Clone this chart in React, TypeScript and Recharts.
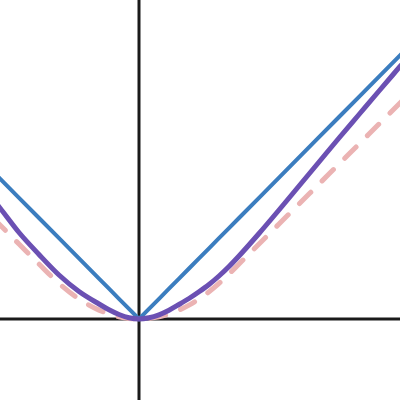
import React from 'react';
import { LineChart, Line, XAxis, YAxis, ReferenceLine } from 'recharts';

const xs = [-1.45, -1.39, -1.2, -1.0, -0.8, -0.6, -0.4, -0.3, -0.2, -0.1, 0, 0.1, 0.2, 0.3, 0.4, 0.5, 0.6, 0.7, 0.8, 0.9, 1.0, 1.2, 1.4, 1.6, 1.8, 2.0, 2.2, 2.4, 2.61, 2.67];
const absLoss = [1.4645, 1.4039, 1.212, 1.01, 0.808, 0.606, 0.404, 0.303, 0.202, 0.101, 0, 0.101, 0.202, 0.303, 0.404, 0.505, 0.606, 0.707, 0.808, 0.909, 1.01, 1.212, 1.414, 1.616, 1.818, 2.02, 2.222, 2.424, 2.6361, 2.6967];
const smoothLoss = [1.185, 1.11, 0.865, 0.645, 0.44, 0.275, 0.15, 0.092, 0.045, 0.012, 0, 0.012, 0.042, 0.088, 0.145, 0.205, 0.272, 0.345, 0.43, 0.525, 0.63, 0.855, 1.09, 1.33, 1.57, 1.81, 2.045, 2.28, 2.525, 2.595];
const huberLoss = [1.0, 0.94, 0.75, 0.55, 0.356, 0.2, 0.089, 0.05, 0.022, 0.006, 0, 0.006, 0.022, 0.05, 0.089, 0.139, 0.2, 0.272, 0.356, 0.45, 0.55, 0.75, 0.95, 1.15, 1.35, 1.55, 1.75, 1.95, 2.16, 2.22];

const data = xs.map((x, i) => ({ x, a: absLoss[i], s: smoothLoss[i], h: huberLoss[i] }));

export default function App() {
  return (
    <div style={{ position: 'absolute', left: 0, top: 0, width: 400, height: 400, background: '#fff', overflow: 'hidden' }}>
      <LineChart width={400} height={400} data={data} margin={{ top: 0, right: 0, bottom: 0, left: 0 }}>
        <XAxis type="number" dataKey="x" domain={[-1.39, 2.61]} allowDataOverflow hide />
        <YAxis type="number" domain={[-0.81, 3.19]} allowDataOverflow hide />
        <ReferenceLine x={0} stroke="#1a1a1a" strokeWidth={3} />
        <ReferenceLine y={0} stroke="#1a1a1a" strokeWidth={3} />
        <Line type="monotone" dataKey="h" stroke="#ebb3b3" strokeWidth={5} strokeDasharray="16 16" strokeLinecap="round" dot={false} activeDot={false} isAnimationActive={false} />
        <Line type="linear" dataKey="a" stroke="#3b7dbf" strokeWidth={4} strokeLinecap="butt" dot={false} activeDot={false} isAnimationActive={false} />
        <Line type="monotone" dataKey="s" stroke="#6b50b3" strokeWidth={5} strokeLinecap="butt" dot={false} activeDot={false} isAnimationActive={false} />
      </LineChart>
    </div>
  );
}
